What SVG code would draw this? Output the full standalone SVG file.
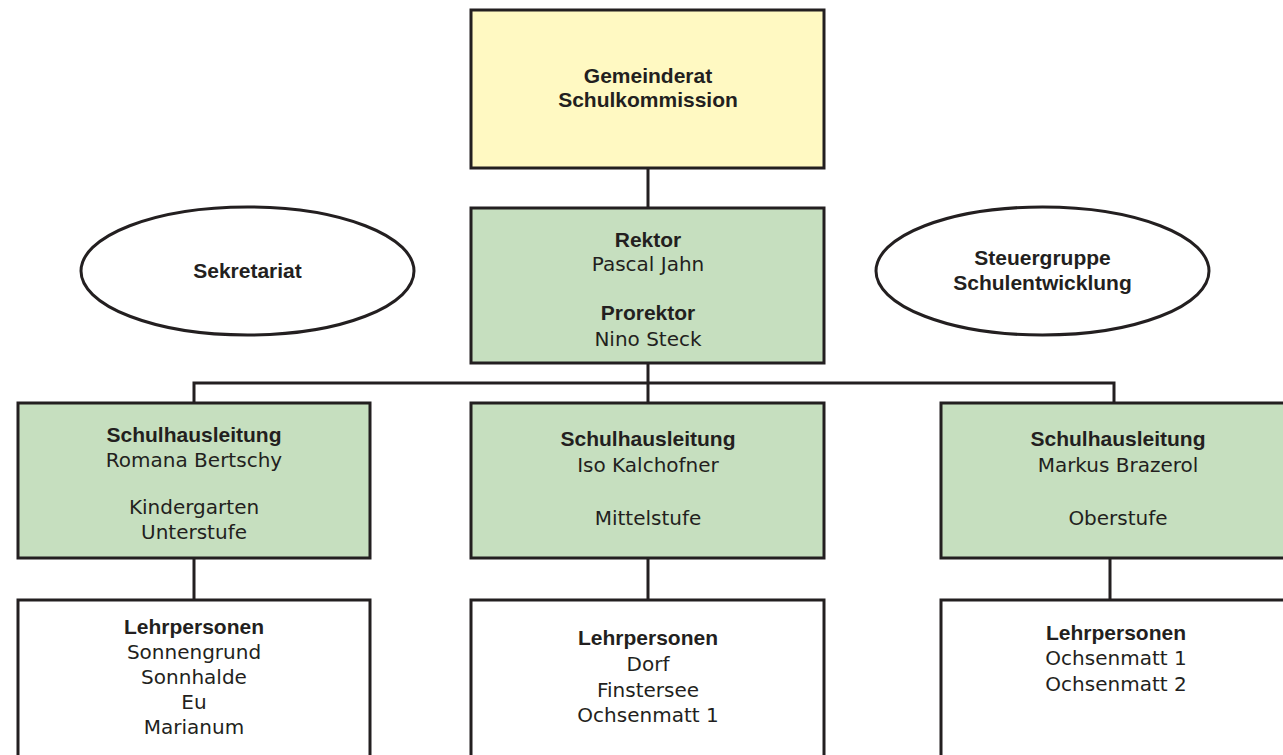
<svg xmlns="http://www.w3.org/2000/svg" width="1283" height="755" viewBox="0 0 1283 755">
<style>
.box{stroke:#231f20;stroke-width:3}
.yellow{fill:#fff9c2}
.green{fill:#c6dfbf}
.white{fill:#ffffff}
.conn{stroke:#231f20;stroke-width:3;fill:none}
text{font-family:"DejaVu Sans","Liberation Sans",sans-serif;font-size:20px;fill:#231f20;text-anchor:middle}
.b{font-family:"Liberation Sans",Arial,sans-serif;font-weight:bold;font-size:21px}
</style>
<rect x="0" y="0" width="1283" height="755" fill="#ffffff"/>
<g id="connectors">
<path class="conn" d="M648 168V208 M648 363V403 M194 403V383H1114V403 M194 558V600 M648 558V600 M1110 558V600"/>
</g>
<g id="gemeinderat">
<rect class="box yellow" x="471" y="10" width="353" height="158"/>
<text class="b" x="648" y="83">Gemeinderat</text>
<text class="b" x="648" y="107">Schulkommission</text>
</g>
<g id="rektor">
<rect class="box green" x="471" y="208" width="353" height="155"/>
<text class="b" x="648" y="247">Rektor</text>
<text x="648" y="271">Pascal Jahn</text>
<text class="b" x="648" y="320">Prorektor</text>
<text x="648" y="346">Nino Steck</text>
</g>
<g id="sekretariat">
<ellipse class="box white" cx="247.5" cy="271" rx="166.5" ry="64"/>
<text class="b" x="247.5" y="278">Sekretariat</text>
</g>
<g id="steuergruppe">
<ellipse class="box white" cx="1042.5" cy="271" rx="166.5" ry="64"/>
<text class="b" x="1042.5" y="265">Steuergruppe</text>
<text class="b" x="1042.5" y="290">Schulentwicklung</text>
</g>
<g id="shl-left">
<rect class="box green" x="18" y="403" width="352" height="155"/>
<text class="b" x="194" y="442">Schulhausleitung</text>
<text x="194" y="467">Romana Bertschy</text>
<text x="194" y="514">Kindergarten</text>
<text x="194" y="539">Unterstufe</text>
</g>
<g id="shl-mid">
<rect class="box green" x="471" y="403" width="353" height="155"/>
<text class="b" x="648" y="446">Schulhausleitung</text>
<text x="648" y="472">Iso Kalchofner</text>
<text x="648" y="525">Mittelstufe</text>
</g>
<g id="shl-right">
<rect class="box green" x="941" y="403" width="353" height="155"/>
<text class="b" x="1118" y="446">Schulhausleitung</text>
<text x="1118" y="472">Markus Brazerol</text>
<text x="1118" y="525">Oberstufe</text>
</g>
<g id="lp-left">
<rect class="box white" x="18" y="600" width="352" height="170"/>
<text class="b" x="194" y="634">Lehrpersonen</text>
<text x="194" y="659">Sonnengrund</text>
<text x="194" y="684">Sonnhalde</text>
<text x="194" y="709">Eu</text>
<text x="194" y="734">Marianum</text>
</g>
<g id="lp-mid">
<rect class="box white" x="471" y="600" width="353" height="170"/>
<text class="b" x="648" y="645">Lehrpersonen</text>
<text x="648" y="671">Dorf</text>
<text x="648" y="697">Finstersee</text>
<text x="648" y="722">Ochsenmatt 1</text>
</g>
<g id="lp-right">
<rect class="box white" x="941" y="600" width="353" height="170"/>
<text class="b" x="1116" y="640">Lehrpersonen</text>
<text x="1116" y="665">Ochsenmatt 1</text>
<text x="1116" y="691">Ochsenmatt 2</text>
</g>
</svg>
